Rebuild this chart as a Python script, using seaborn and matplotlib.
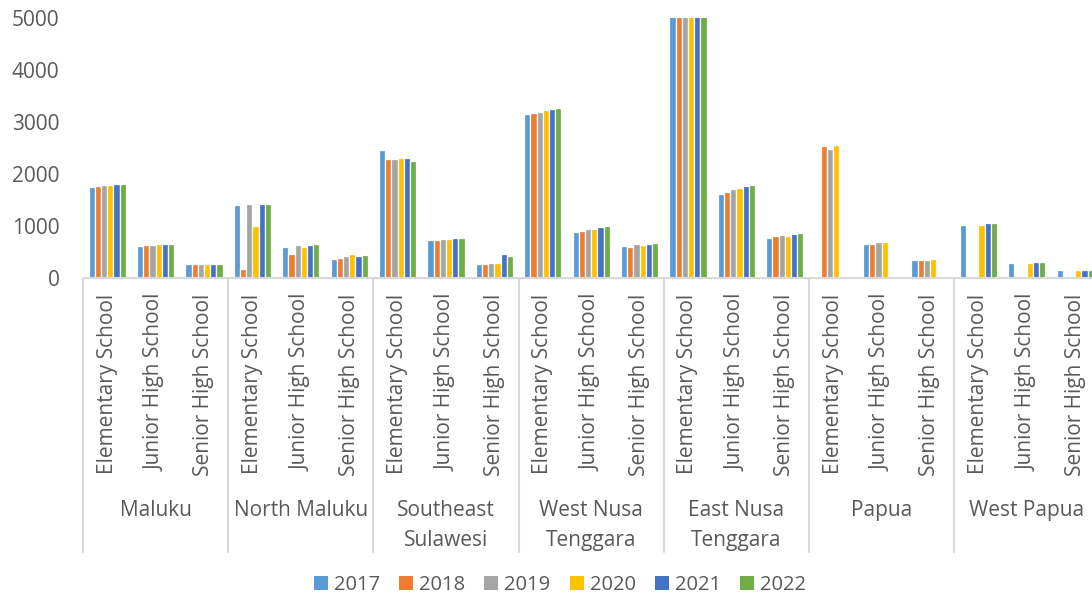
import numpy as np
import pandas as pd
import matplotlib
matplotlib.use("Agg")
import matplotlib.pyplot as plt
from matplotlib import transforms
import seaborn as sns

# Number of schools per province and level, 2017-2022
provinces = ["Maluku", "North Maluku", "Southeast\nSulawesi", "West Nusa\nTenggara",
             "East Nusa\nTenggara", "Papua", "West Papua"]
levels = ["Elementary School", "Junior High School", "Senior High School"]
years = ["2017", "2018", "2019", "2020", "2021", "2022"]
nan = np.nan

# one list per year, ordered province by province (Elementary, Junior, Senior)
y2017 = [1756, 623, 263, 1411, 603, 365, 2469, 738, 276, 3161, 891, 609,
         5150, 1625, 766, nan, 654, 346, 1023, 279, 154]
y2018 = [1775, 629, 263, 181, 455, 392, 2296, 731, 276, 3167, 904, 590,
         5180, 1658, 811, 2529, 660, 352, nan, nan, nan]
y2019 = [1781, 642, 266, 1417, 629, 423, 2296, 750, 282, 3199, 942, 648,
         5220, 1715, 830, 2490, 692, 352, nan, nan, nan]
y2020 = [1788, 648, 263, 1007, 590, 455, 2302, 750, 282, 3224, 949, 629,
         5250, 1735, 811, 2567, 692, 358, 1023, 298, 163]
y2021 = [1801, 654, 266, 1430, 635, 417, 2315, 763, 455, 3244, 975, 648,
         5280, 1760, 850, nan, nan, nan, 1054, 304, 163]
y2022 = [1808, 661, 263, 1430, 661, 436, 2258, 769, 423, 3276, 1000, 667,
         5300, 1792, 875, nan, nan, nan, 1067, 317, 163]
series = [y2017, y2018, y2019, y2020, y2021, y2022]

colors = ["#5B9BD5", "#ED7D31", "#A5A5A5", "#FFC000", "#4472C4", "#70AD47"]
text_color = "#595959"
line_color = "#D9D9D9"
fs = 15

slots = [f"{p}|{l}" for p in provinces for l in levels]
rows = []
for yr, vals in zip(years, series):
    for s, v in zip(slots, vals):
        rows.append({"slot": s, "Year": yr, "count": v})
df = pd.DataFrame(rows).dropna()

sns.set_theme(style="white")
plt.rcParams["font.family"] = ["Open Sans", "DejaVu Sans"]

W, H = 1092, 598
fig = plt.figure(figsize=(W / 100, H / 100), dpi=100)
slot_px = 48.4
left_px, top_px, base_px = 83, 18, 278
ax = fig.add_axes([left_px / W, (H - base_px) / H,
                   len(slots) * slot_px / W, (base_px - top_px) / H])

sns.barplot(data=df, x="slot", y="count", hue="Year", order=slots, hue_order=years,
            palette=colors, width=0.77, errorbar=None, edgecolor="white",
            linewidth=0.9, saturation=1, ax=ax)

ax.set_ylim(0, 5000)
ax.set_xlim(-0.5, len(slots) - 0.5)
ax.set_yticks(range(0, 5001, 1000))
ax.tick_params(axis="y", length=0, pad=17, labelsize=fs, labelcolor=text_color)
ax.set_xticks([])
ax.set_xlabel("")
ax.set_ylabel("")
for side in ["left", "right", "top"]:
    ax.spines[side].set_visible(False)
ax.spines["bottom"].set_color(line_color)
ax.spines["bottom"].set_linewidth(1.5)

# multi-level category axis below the bars
trans = transforms.blended_transform_factory(ax.transData, ax.transAxes)
px = 1.0 / (base_px - top_px)
for i, s in enumerate(slots):
    ax.text(i, -(294 - base_px) * px, s.split("|")[1], rotation=90, ha="center",
            va="top", fontsize=fs, color=text_color, transform=trans, clip_on=False)
for k, p in enumerate(provinces):
    ax.text(k * 3 + 1, -(500 - base_px) * px, p, ha="center", va="top",
            fontsize=fs, color=text_color, transform=trans, clip_on=False,
            linespacing=1.55)
for k in range(len(provinces) + 1):
    ax.plot([k * 3 - 0.5] * 2, [0, -(552 - base_px) * px], color=line_color,
            lw=1.5, transform=trans, clip_on=False)

sns.move_legend(ax, "center", bbox_to_anchor=(560 / W, 1 - 585 / H),
                bbox_transform=fig.transFigure, ncol=6, frameon=False, title=None,
                fontsize=14.5, handlelength=0.7, handleheight=0.7,
                handletextpad=0.3, columnspacing=0.95)
for t in ax.get_legend().get_texts():
    t.set_color(text_color)
for h in ax.get_legend().legend_handles:
    h.set_edgecolor("none")

fig.savefig("out.png", dpi=100)
